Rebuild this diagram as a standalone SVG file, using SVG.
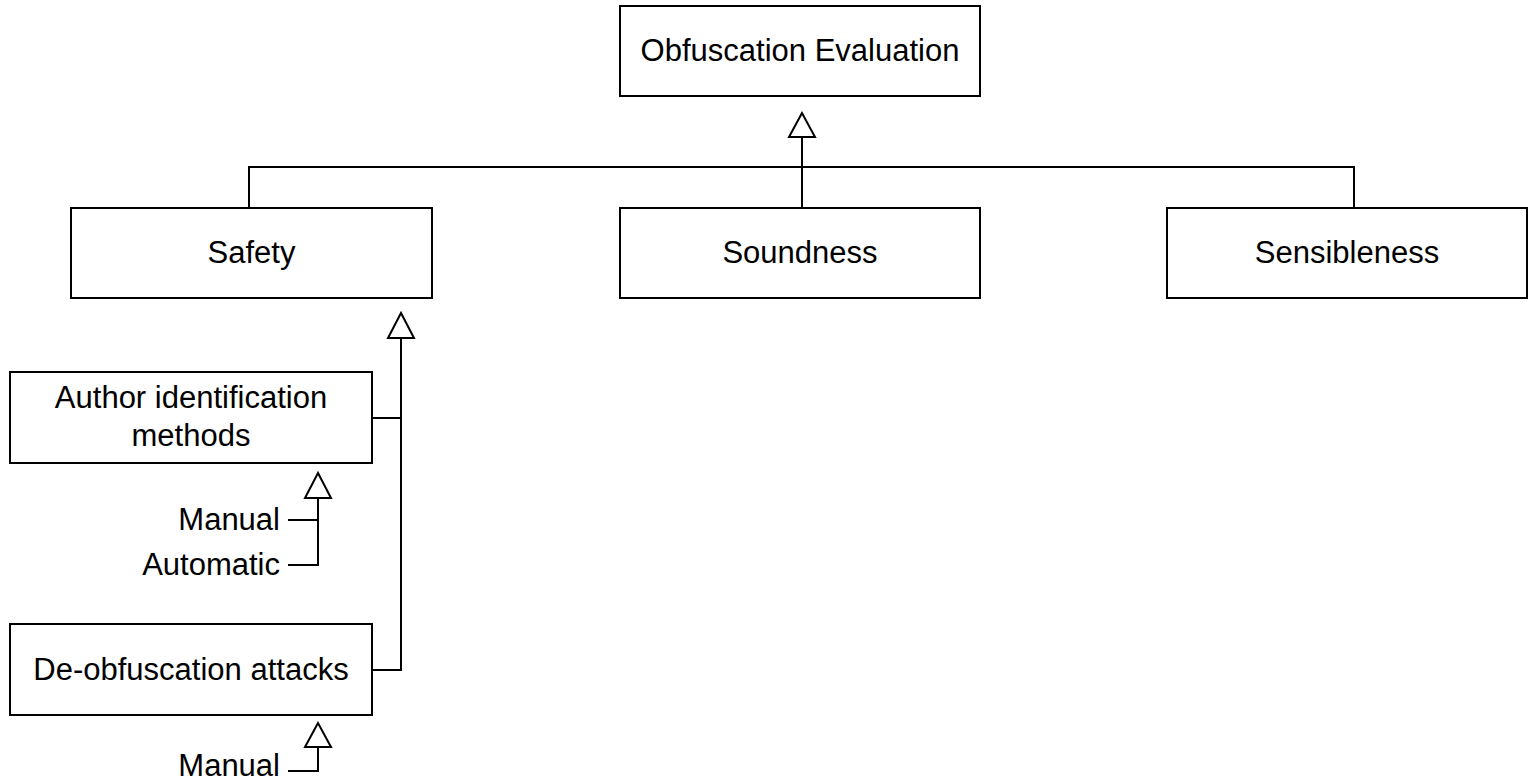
<svg xmlns="http://www.w3.org/2000/svg" width="1532" height="783" viewBox="0 0 1532 783">
<style>
.box{fill:#fff;stroke:#000;stroke-width:2}
.t{font-family:"Liberation Sans",Arial,sans-serif;font-size:31px;fill:#000}
.c{text-anchor:middle}
.e{text-anchor:end}
.ln{fill:none;stroke:#000;stroke-width:2}
.tri{fill:#fff;stroke:#000;stroke-width:2;stroke-linejoin:miter}
</style>
<rect width="1532" height="783" fill="#fff"/>
<g id="connectors">
<path class="ln" d="M802 137 V208 M249 208 V167 H1354 V208"/>
<polygon class="tri" points="802,113 789,137 815,137"/>
<path class="ln" d="M401 338 V670 H372 M372 418 H401"/>
<polygon class="tri" points="401,313 388,338 414,338"/>
<path class="ln" d="M318 498 V565 H288 M288 520 H318"/>
<polygon class="tri" points="318,473 305,498 331,498"/>
<path class="ln" d="M318 747 V771 H288"/>
<polygon class="tri" points="318,723 305,747 331,747"/>
</g>
<g id="obfuscation-evaluation">
<rect class="box" x="620" y="6" width="360" height="90"/>
<text class="t c" x="800" y="61">Obfuscation Evaluation</text>
</g>
<g id="safety">
<rect class="box" x="71" y="208" width="361" height="90"/>
<text class="t c" x="251.5" y="263">Safety</text>
</g>
<g id="soundness">
<rect class="box" x="620" y="208" width="360" height="90"/>
<text class="t c" x="800" y="263">Soundness</text>
</g>
<g id="sensibleness">
<rect class="box" x="1167" y="208" width="360" height="90"/>
<text class="t c" x="1347" y="263">Sensibleness</text>
</g>
<g id="author-identification">
<rect class="box" x="10" y="372" width="362" height="91"/>
<text class="t c" x="191" y="408">Author identification</text>
<text class="t c" x="191" y="446">methods</text>
</g>
<g id="deobfuscation-attacks">
<rect class="box" x="10" y="624" width="362" height="91"/>
<text class="t c" x="191" y="680">De-obfuscation attacks</text>
</g>
<g id="labels">
<text class="t e" x="280" y="530">Manual</text>
<text class="t e" x="280" y="575">Automatic</text>
<text class="t e" x="280" y="776">Manual</text>
</g>
</svg>
